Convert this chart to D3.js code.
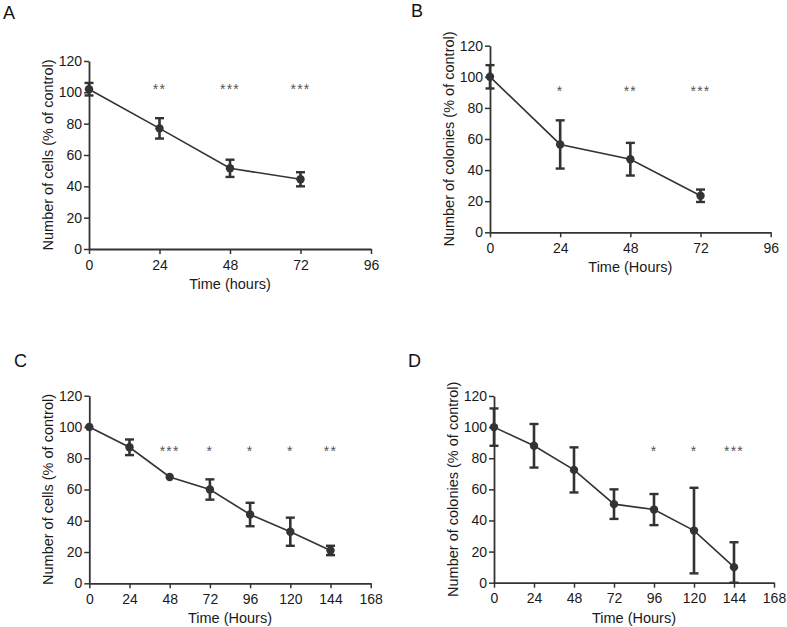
<!DOCTYPE html>
<html>
<head>
<meta charset="utf-8">
<script src="https://cdn.jsdelivr.net/npm/d3@7"></script>
<style>
  html, body { margin: 0; padding: 0; background: #fff; }
  svg { display: block; font-family: Arial, "Liberation Sans", Helvetica, sans-serif; }
</style>
</head>
<body>
<svg id="chart" width="787" height="627"></svg>
<script>
// ---------------- DATA ----------------
const panelLetters = ["A", "B", "C", "D"];
const yTitles = ["Number of cells (% of control)", "Number of colonies (% of control)",
                 "Number of cells (% of control)", "Number of colonies (% of control)"];
const xTitles = ["Time (hours)", "Time (Hours)", "Time (Hours)", "Time (Hours)"];
const yTicks = [0, 20, 40, 60, 80, 100, 120];
const xTicksShort = [0, 24, 48, 72, 96];
const xTicksLong = [0, 24, 48, 72, 96, 120, 144, 168];

const timesA = [0, 24, 48, 72];
const meansA = [102, 77, 51.5, 44.5];
const errA   = [4, 6.5, 5.5, 4.5];
const starsA = ["", "**", "***", "***"];
const starLevelA = 103.5;

const timesB = [0, 24, 48, 72];
const meansB = [100, 56.5, 47, 23.5];
const errB   = [7.5, 15.5, 10.5, 4];
const starsB = ["", "*", "**", "***"];
const starLevelB = 92.5;

const timesC = [0, 24, 48, 72, 96, 120, 144];
const meansC = [100, 87, 68, 60, 44, 33, 21];
const errC   = [0, 5, 0, 6.5, 7.5, 9, 3];
const starsC = ["", "", "***", "*", "*", "*", "**"];
const starLevelC = 86.5;

const timesD = [0, 24, 48, 72, 96, 120, 144];
const meansD = [100, 88, 72.5, 50.5, 47, 33.5, 10];
const errD   = [12, 14, 14.5, 9.5, 10, 27.5, 16];
const starsD = ["", "", "", "", "*", "*", "***"];
const starLevelD = 86.5;

// ---------------- LAYOUT ----------------
const panels = [
  { letter: panelLetters[0], lx: 3, ly: 18.5, x0: 89, x1: 371, xMax: 96, xTicks: xTicksShort, y0: 249, y1: 61,
    times: timesA, means: meansA, err: errA, stars: starsA, starLevel: starLevelA, yTitle: yTitles[0], xTitle: xTitles[0] },
  { letter: panelLetters[1], lx: 411, ly: 17, x0: 490, x1: 770.7, xMax: 96, xTicks: xTicksShort, y0: 232.3, y1: 45.7,
    times: timesB, means: meansB, err: errB, stars: starsB, starLevel: starLevelB, yTitle: yTitles[1], xTitle: xTitles[1] },
  { letter: panelLetters[2], lx: 14, ly: 367, x0: 89.3, x1: 370.7, xMax: 168, xTicks: xTicksLong, y0: 583.3, y1: 395.7,
    times: timesC, means: meansC, err: errC, stars: starsC, starLevel: starLevelC, yTitle: yTitles[2], xTitle: xTitles[2] },
  { letter: panelLetters[3], lx: 408, ly: 367, x0: 494, x1: 774, xMax: 168, xTicks: xTicksLong, y0: 582.7, y1: 396,
    times: timesD, means: meansD, err: errD, stars: starsD, starLevel: starLevelD, yTitle: yTitles[3], xTitle: xTitles[3] }
];

const svg = d3.select("#chart");
const ink = "#333";
const textCol = "#1a1a1a";

panels.forEach(p => {
  const x = d3.scaleLinear().domain([0, p.xMax]).range([p.x0, p.x1]);
  const y = d3.scaleLinear().domain([0, 120]).range([p.y0, p.y1]);
  const g = svg.append("g");

  // panel letter
  g.append("text").attr("x", p.lx).attr("y", p.ly)
    .attr("font-size", 18).attr("fill", "#111").text(p.letter);

  // axes
  const yAxis = d3.axisLeft(y).tickValues(yTicks).tickSize(5).tickPadding(2).tickSizeOuter(0);
  const xAxis = d3.axisBottom(x).tickValues(p.xTicks).tickSize(5).tickPadding(3).tickSizeOuter(0);

  const gy = g.append("g").attr("transform", `translate(${p.x0},0)`).call(yAxis);
  const gx = g.append("g").attr("transform", `translate(0,${p.y0})`).call(xAxis);
  [gx, gy].forEach(ax => {
    ax.attr("font-size", 14).attr("font-family", "Arial, 'Liberation Sans', sans-serif");
    ax.select(".domain").attr("stroke", ink).attr("stroke-width", 1.8);
    ax.selectAll(".tick line").attr("stroke", ink).attr("stroke-width", 1.5);
    ax.selectAll(".tick text").attr("fill", textCol).attr("font-size", 14);
  });
  gx.selectAll(".tick text").attr("dy", "0.9em");

  // axis titles
  g.append("text")
    .attr("x", (p.x0 + p.x1) / 2).attr("y", p.y0 + 40)
    .attr("text-anchor", "middle").attr("font-size", 14.5).attr("fill", textCol)
    .text(p.xTitle);
  g.append("text")
    .attr("transform", `translate(${p.x0 - 36},${(p.y0 + p.y1) / 2}) rotate(-90)`)
    .attr("text-anchor", "middle").attr("font-size", 14.5).attr("fill", textCol)
    .text(p.yTitle);

  const pts = p.times.map((t, i) => ({ t, m: p.means[i], e: p.err[i], s: p.stars[i] }));

  // connecting line
  g.append("path").datum(pts)
    .attr("fill", "none").attr("stroke", ink).attr("stroke-width", 1.6)
    .attr("d", d3.line().x(d => x(d.t)).y(d => y(d.m)));

  // error bars
  const eb = g.selectAll(".eb").data(pts.filter(d => d.e > 0)).enter().append("g");
  eb.append("line")
    .attr("x1", d => x(d.t)).attr("x2", d => x(d.t))
    .attr("y1", d => y(Math.max(0, d.m - d.e))).attr("y2", d => y(d.m + d.e))
    .attr("stroke", ink).attr("stroke-width", 2.6);
  [-1, 1].forEach(sgn => {
    eb.append("line")
      .attr("x1", d => x(d.t) - 4.5).attr("x2", d => x(d.t) + 4.5)
      .attr("y1", d => y(Math.max(0, d.m + sgn * d.e))).attr("y2", d => y(Math.max(0, d.m + sgn * d.e)))
      .attr("stroke", ink).attr("stroke-width", 2.4);
  });

  // markers
  g.selectAll(".pt").data(pts).enter().append("circle")
    .attr("cx", d => x(d.t)).attr("cy", d => y(d.m)).attr("r", 4.2).attr("fill", ink);

  // significance stars
  g.selectAll(".st").data(pts.filter(d => d.s)).enter().append("text")
    .attr("x", d => x(d.t)).attr("y", y(p.starLevel) + 7.5)
    .attr("text-anchor", "middle").attr("font-size", 14).attr("letter-spacing", 1.2)
    .attr("fill", "#555").text(d => d.s);
});
</script>
</body>
</html>
